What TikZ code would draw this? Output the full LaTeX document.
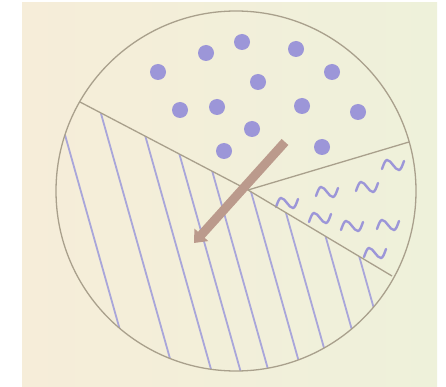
\documentclass[tikz,border=0pt]{standalone}
\usetikzlibrary{arrows.meta}

\definecolor{paperL}{HTML}{F6EDD9}
\definecolor{paperR}{HTML}{EEF1DA}
\definecolor{rimcol}{HTML}{A9A08C}
\definecolor{dotcol}{HTML}{9C96D8}
\definecolor{hatchcol}{HTML}{A9A6DA}
\definecolor{pointer}{HTML}{BB9A8C}

\begin{document}
\begin{tikzpicture}[x=1pt, y=-1pt,
  rim/.style={draw=rimcol, line width=1.3pt},
  blob/.style={fill=dotcol},
  hatch/.style={draw=hatchcol, line width=1.8pt},
  wave/.style={draw=dotcol, line width=2.4pt, line cap=round}]

\useasboundingbox (0,0) rectangle (446,387);
\fill[white] (0,0) rectangle (446,387);
\shade[left color=paperL, right color=paperR] (22,3) rectangle (437,386);

\coordinate (mid) at (236,191);
\coordinate (hub) at (248,190);
\coordinate (edgeA) at (80,102);
\coordinate (edgeB) at (409,142);
\coordinate (edgeC) at (392,276);

% striped sector
\begin{scope}
  \clip (mid) circle (180);
  \clip (hub) -- (0,61) -- (0,400) -- (470,400) -- (470,323) -- cycle;
  \foreach \x in {68,110,148,177,205,238,267,300,328}
    \draw[hatch] (\x-41,0) -- (\x+68,387);
\end{scope}

% dots
\foreach \px/\py in {158/72, 206/53, 242/42, 296/49, 332/72, 258/82,
                     180/110, 217/107, 302/106, 358/112, 252/129,
                     224/151, 322/147}
  \fill[blob] (\px,\py) circle (8);

% waves
\foreach \px/\py in {393/165, 367/187, 327/192, 287/203,
                     320/218, 352/226, 388/225, 375/253}
  \draw[wave] (\px-11,\py+4) sin (\px-6,\py-5) cos (\px,\py)
              sin (\px+6,\py+5) cos (\px+11,\py-4);

% outline
\draw[rim] (mid) circle (180);
\draw[rim] (edgeA) -- (hub) -- (edgeB);
\draw[rim] (hub) -- (edgeC);

% pointer
\coordinate (tail) at (285,142);
\coordinate (tip) at (194,243);
\draw[draw=pointer, line width=9pt, -{Triangle[width=18pt,length=11pt]}] (tail) -- (tip);

\end{tikzpicture}
\end{document}
